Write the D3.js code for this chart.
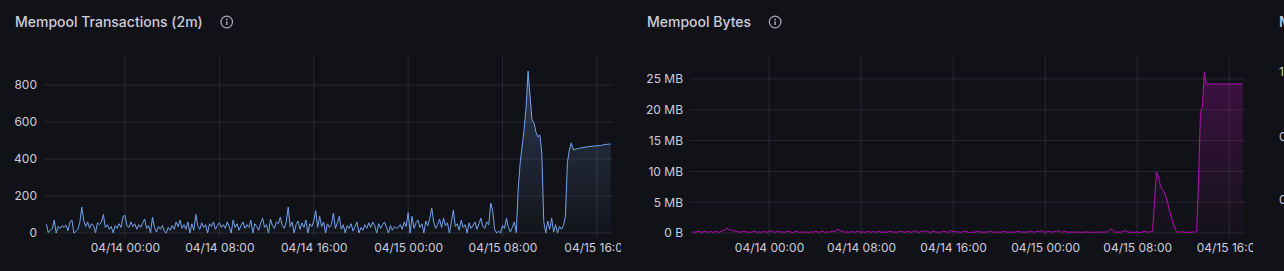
<!DOCTYPE html>
<html>
<head>
<meta charset="utf-8">
<script src="https://cdn.jsdelivr.net/npm/d3@7"></script>
<style>
  body { margin: 0; background: #111217; }
  svg { display: block; font-family: Inter, "Open Sans", sans-serif; }
</style>
</head>
<body>
<div id="dash"></div>
<script>
// Data, 10 minute samples starting 04/13 17:20

const startTime = new Date(2024, 3, 13, 17, 20);
const stepMinutes = 10;
const rangeStart = new Date(2024, 3, 13, 17, 8);
const rangeEnd = new Date(2024, 3, 15, 17, 22);

const txCounts = [
  48, 2, 15, 22, 70, 0, 35, 25, 40, 30,
  42, 12, 60, 70, 0, 8, 20, 55, 140, 70,
  35, 60, 25, 50, 40, 2, 55, 45, 60, 100,
  30, 45, 20, 35, 0, 40, 25, 50, 30, 90,
  95, 40, 30, 60, 35, 50, 20, 45, 30, 55,
  75, 25, 40, 0, 86, 30, 5, 35, 20, 40,
  10, 0, 30, 15, 40, 20, 60, 35, 70, 25,
  45, 20, 60, 0, 50, 15, 100, 40, 20, 55,
  30, 45, 0, 50, 35, 60, 20, 40, 55, 30,
  45, 25, 60, 35, 0, 70, 30, 50, 15, 40,
  60, 25, 45, 30, 70, 0, 50, 35, 15, 55,
  80, 30, 45, 0, 75, 40, 25, 60, 50, 85,
  40, 25, 60, 140, 35, 60, 0, 45, 65, 20,
  55, 30, 70, 0, 50, 35, 65, 120, 30, 90,
  35, 60, 0, 50, 30, 45, 108, 25, 55, 90,
  20, 45, 0, 40, 25, 50, 10, 35, 60, 0,
  30, 15, 45, 25, 55, 30, 60, 40, 0, 50,
  25, 45, 60, 30, 0, 40, 15, 35, 25, 30,
  45, 20, 60, 35, 110, 0, 90, 25, 55, 70,
  30, 50, 0, 65, 40, 80, 135, 60, 25, 45,
  75, 30, 80, 40, 55, 0, 60, 124, 35, 50,
  15, 70, 30, 45, 0, 55, 25, 40, 60, 20,
  50, 80, 35, 25, 60, 45, 162, 120, 20, 0,
  10, 0, 40, 25, 80, 30, 5, 30, 60, 2,
  240, 380, 470, 560, 680, 875, 740, 610, 595, 545,
  520, 530, 432, 60, 0, 65, 20, 80, 5, 45,
  0, 35, 20, 40, 90, 380, 450, 487, 450, 453,
  455, 458, 460, 462, 464, 465, 467, 468, 470, 470,
  471, 472, 473, 476, 478, 479, 480, 481
];

// mempool size in MB
const mempoolMB = [
  0.1, 0.2, 0.1, 0.3, 0.2, 0.1, 0.2, 0.3, 0.1, 0.2,
  0.2, 0.1, 0.3, 0.2, 0.1, 0.2, 0.4, 0.5, 0.8, 0.6,
  0.5, 0.4, 0.3, 0.3, 0.2, 0.1, 0.2, 0.3, 0.2, 0.1,
  0.2, 0.1, 0.3, 0.2, 0.1, 0.2, 0.1, 0.2, 0.3, 0.1,
  0.2, 0.4, 0.2, 0.1, 0.2, 0.3, 0.1, 0.2, 0.1, 0.2,
  0.3, 0.2, 0.1, 0.1, 0.3, 0.2, 0.1, 0.2, 0.1, 0.2,
  0.1, 0.1, 0.2, 0.1, 0.3, 0.2, 0.1, 0.2, 0.3, 0.1,
  0.2, 0.1, 0.2, 0.3, 0.2, 0.4, 0.6, 0.4, 0.3, 0.2,
  0.1, 0.2, 0.1, 0.2, 0.2, 0.1, 0.3, 0.2, 0.1, 0.2,
  0.1, 0.2, 0.3, 0.1, 0.2, 0.2, 0.1, 0.3, 0.2, 0.1,
  0.2, 0.1, 0.2, 0.3, 0.2, 0.1, 0.2, 0.1, 0.3, 0.2,
  0.2, 0.1, 0.2, 0.3, 0.1, 0.2, 0.4, 0.2, 0.1, 0.2,
  0.3, 0.2, 0.4, 0.2, 0.1, 0.2, 0.3, 0.1, 0.2, 0.1,
  0.2, 0.3, 0.2, 0.1, 0.2, 0.4, 0.2, 0.3, 0.1, 0.2,
  0.1, 0.2, 0.3, 0.2, 0.1, 0.1, 0.2, 0.1, 0.2, 0.3,
  0.1, 0.2, 0.1, 0.2, 0.1, 0.3, 0.2, 0.1, 0.2, 0.1,
  0.2, 0.1, 0.2, 0.3, 0.1, 0.2, 0.1, 0.2, 0.1, 0.2,
  0.3, 0.2, 0.1, 0.2, 0.1, 0.2, 0.2, 0.3, 0.1, 0.2,
  0.3, 0.2, 0.4, 0.2, 0.1, 0.2, 0.3, 0.2, 0.1, 0.3,
  0.2, 0.4, 0.2, 0.1, 0.3, 0.2, 0.1, 0.2, 0.1, 0.2,
  0.1, 0.2, 0.1, 0.1, 0.2, 0.1, 0.2, 0.1, 0.2, 0.1,
  0.1, 0.2, 0.1, 0.2, 0.1, 0.2, 0.1, 0.3, 0.6, 0.5,
  0.2, 0.1, 0.2, 0.1, 0.2, 0.3, 0.4, 0.2, 0.1, 0.2,
  0.1, 0.1, 0.2, 0.1, 0.1, 0.2, 0.3, 0.2, 0.1, 0.2,
  0.3, 5.0, 9.9, 9.2, 7.8, 7.1, 6.7, 5.8, 4.8, 3.4,
  2.4, 1.3, 0.4, 0.1, 0.2, 0.1, 0.2, 0.1, 0.1, 0.2,
  0.1, 0.2, 0.1, 0.3, 9.0, 19.6, 20.5, 26.1, 24.2, 24.2,
  24.2, 24.2, 24.2, 24.2, 24.2, 24.2, 24.2, 24.2, 24.2, 24.2,
  24.2, 24.2, 24.2, 24.2, 24.2, 24.2, 24.2, 24.2
];

// tick labels
const xTickTimes = [
  new Date(2024, 3, 14, 0), new Date(2024, 3, 14, 8), new Date(2024, 3, 14, 16),
  new Date(2024, 3, 15, 0), new Date(2024, 3, 15, 8), new Date(2024, 3, 15, 16)
];
const txTicks = [0, 200, 400, 600, 800];
const bytesTicks = [0, 5, 10, 15, 20, 25];
const bytesTickLabels = ["0 B", "5 MB", "10 MB", "15 MB", "20 MB", "25 MB"];
const sizeTickLabels = ["1", "0.5", "0"];

const textColor = "#ccccdc";
const gridColor = "rgba(204, 204, 220, 0.12)";

const svg = d3.select("#dash")
  .append("svg")
  .attr("width", 1284)
  .attr("height", 271);

const defs = svg.append("defs");

function toSeries(values) {
  return values.map((v, i) => ({
    time: d3.timeMinute.offset(startTime, i * stepMinutes),
    value: v
  }));
}

// Panel drawing

function drawPanel(p) {
  const plotTop = 55, plotBottom = 233;

  defs.append("clipPath")
    .attr("id", p.id + "-clip")
    .append("rect")
    .attr("x", p.clipLeft).attr("y", 0)
    .attr("width", p.clipRight - p.clipLeft).attr("height", 271);

  const grad = defs.append("linearGradient")
    .attr("id", p.id + "-grad")
    .attr("gradientUnits", "userSpaceOnUse")
    .attr("x1", 0).attr("y1", plotTop)
    .attr("x2", 0).attr("y2", plotBottom);
  grad.append("stop").attr("offset", 0)
    .attr("stop-color", p.color).attr("stop-opacity", 0.3);
  grad.append("stop").attr("offset", 1)
    .attr("stop-color", p.color).attr("stop-opacity", 0.02);

  const g = svg.append("g").attr("clip-path", `url(#${p.id}-clip)`);

  // title + info icon
  const title = g.append("text")
    .attr("x", p.titleX).attr("y", 27)
    .attr("fill", textColor)
    .attr("font-size", 14)
    .attr("font-weight", 500)
    .text(p.title);

  const ix = p.titleX + title.node().getComputedTextLength() + 24;
  const icon = g.append("g").attr("transform", `translate(${ix},22)`);
  icon.append("circle").attr("r", 5.8)
    .attr("fill", "none").attr("stroke", "#a8a8b4").attr("stroke-width", 1.2);
  icon.append("circle").attr("cy", -2.6).attr("r", 0.9).attr("fill", "#a8a8b4");
  icon.append("line").attr("y1", -0.8).attr("y2", 3)
    .attr("stroke", "#a8a8b4").attr("stroke-width", 1.4);

  const x = d3.scaleTime()
    .domain([rangeStart, rangeEnd])
    .range([p.plotLeft, p.plotRight]);

  const y = d3.scaleLinear()
    .domain([0, p.yMax])
    .range([plotBottom, plotTop]);

  // grid
  g.append("g").selectAll("line")
    .data(p.yTicks)
    .join("line")
    .attr("x1", p.plotLeft).attr("x2", p.plotRight)
    .attr("y1", d => y(d)).attr("y2", d => y(d))
    .attr("stroke", gridColor);

  g.append("g").selectAll("line")
    .data(xTickTimes)
    .join("line")
    .attr("x1", d => x(d)).attr("x2", d => x(d))
    .attr("y1", plotTop).attr("y2", plotBottom + 4)
    .attr("stroke", gridColor);

  // axes
  const xAxis = g.append("g")
    .attr("transform", `translate(0,${plotBottom})`)
    .call(d3.axisBottom(x)
      .tickValues(xTickTimes)
      .tickSize(0)
      .tickPadding(10)
      .tickFormat(d3.timeFormat("%m/%d %H:%M")));

  const yAxis = g.append("g")
    .attr("transform", `translate(${p.plotLeft},0)`)
    .call(d3.axisLeft(y)
      .tickValues(p.yTicks)
      .tickSize(0)
      .tickPadding(7)
      .tickFormat((d, i) => p.yLabels[i]));

  [xAxis, yAxis].forEach(a => {
    a.select(".domain").remove();
    a.selectAll("text")
      .attr("fill", textColor)
      .attr("font-size", 12)
      .attr("font-family", "Inter, sans-serif");
  });

  // series
  const series = toSeries(p.values);

  const area = d3.area()
    .x(d => x(d.time))
    .y0(plotBottom)
    .y1(d => y(d.value));

  const line = d3.line()
    .x(d => x(d.time))
    .y(d => y(d.value));

  g.append("path")
    .datum(series)
    .attr("fill", `url(#${p.id}-grad)`)
    .attr("d", area);

  g.append("path")
    .datum(series)
    .attr("fill", "none")
    .attr("stroke", p.color)
    .attr("stroke-width", 1)
    .attr("stroke-linejoin", "round")
    .attr("d", line);
}

drawPanel({
  id: "tx",
  title: "Mempool Transactions (2m)",
  titleX: 15,
  clipLeft: 0, clipRight: 621,
  plotLeft: 44, plotRight: 613,
  values: txCounts,
  color: "#73a3eb",
  yMax: 962,
  yTicks: txTicks,
  yLabels: txTicks.map(String)
});

drawPanel({
  id: "bytes",
  title: "Mempool Bytes",
  titleX: 647,
  clipLeft: 633, clipRight: 1253,
  plotLeft: 690, plotRight: 1245,
  values: mempoolMB,
  color: "#b80fb8",
  yMax: 28.9,
  yTicks: bytesTicks,
  yLabels: bytesTickLabels
});

// third panel, cut off at the window edge
const p3 = svg.append("g");
p3.append("text")
  .attr("x", 1279).attr("y", 27)
  .attr("fill", textColor)
  .attr("font-size", 14).attr("font-weight", 500)
  .text("Mempool Size");

p3.selectAll(".p3-label")
  .data(sizeTickLabels)
  .join("text")
  .attr("class", "p3-label")
  .attr("x", 1279)
  .attr("y", (d, i) => [72, 137, 200][i])
  .attr("dy", "0.32em")
  .attr("fill", textColor)
  .attr("font-size", 12)
  .text(d => d);
</script>
</body>
</html>
